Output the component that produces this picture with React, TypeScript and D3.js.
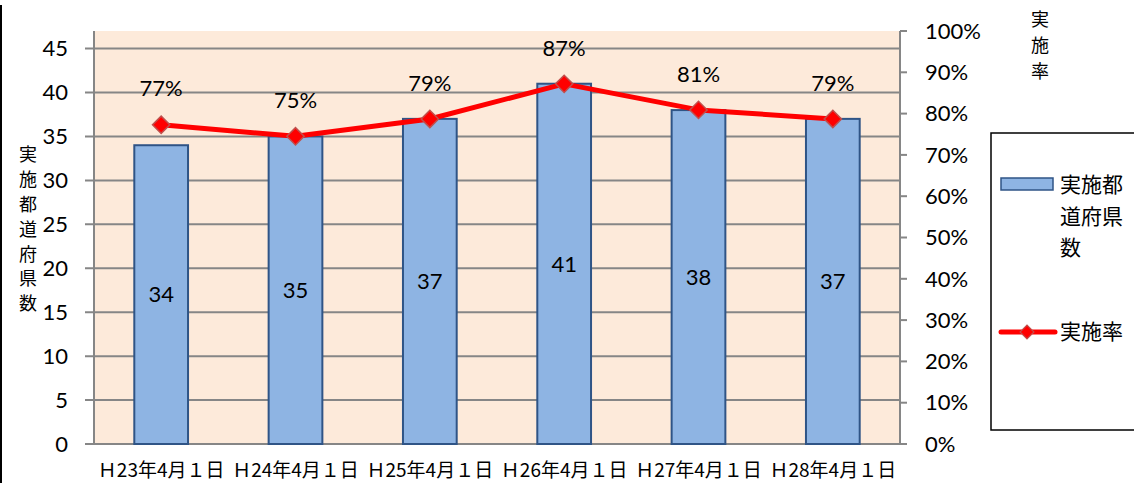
import React from 'react';
import * as d3 from 'd3';

const categories = ['Ｈ23年4月１日', 'Ｈ24年4月１日', 'Ｈ25年4月１日', 'Ｈ26年4月１日', 'Ｈ27年4月１日', 'Ｈ28年4月１日'];
const counts = [34, 35, 37, 41, 38, 37];
const rates = [0.773, 0.745, 0.787, 0.872, 0.809, 0.787];
const rateLabels = ['77%', '75%', '79%', '87%', '81%', '79%'];
const leftTicks = [0, 5, 10, 15, 20, 25, 30, 35, 40, 45];
const rightTicks = [0, 0.1, 0.2, 0.3, 0.4, 0.5, 0.6, 0.7, 0.8, 0.9, 1];

const W = 1134;
const H = 483;
const plot = { left: 94, right: 900, top: 31, bottom: 444 };

const font = "Lato, 'Noto Sans', 'Noto Sans CJK JP', sans-serif";
const jpFont = "'Noto Sans CJK JP', sans-serif";
const grid = '#868686';

const x = d3.scaleBand().domain(categories).range([plot.left, plot.right]).paddingInner(0.6).paddingOuter(0.3);
const yL = d3.scaleLinear().domain([0, 47]).range([plot.bottom, plot.top]);
const yR = d3.scaleLinear().domain([0, 1]).range([plot.bottom, plot.top]);

const line = d3.line<number>()
  .x((_, i) => x(categories[i])! + x.bandwidth() / 2)
  .y(d => yR(d));

const diamond = d3.symbol(d3.symbolSquare, 150)();

export default function App() {
  const leftTitle = '実施都道府県数'.split('');
  const rightTitle = '実施率'.split('');
  return (
    <svg width={W} height={H} style={{ position: 'absolute', left: 0, top: 0, background: '#fff' }}>
      <line x1={1} x2={1} y1={5} y2={H} stroke="#000" strokeWidth={2} />
      <rect x={plot.left} y={plot.top} width={plot.right - plot.left} height={plot.bottom - plot.top} fill="#FDEADA" />

      {/* gridlines + left ticks */}
      {leftTicks.map(t => (
        <g key={'l' + t}>
          <line x1={85} x2={plot.right} y1={yL(t)} y2={yL(t)} stroke={grid} strokeWidth={2} />
          <text x={68} y={yL(t)} dy="0.35em" textAnchor="end" fontSize={22} fontFamily={font}>{t}</text>
        </g>
      ))}
      <line x1={plot.left} x2={plot.left} y1={plot.top} y2={plot.bottom} stroke={grid} strokeWidth={2} />

      {/* right axis */}
      <line x1={plot.right} x2={plot.right} y1={plot.top} y2={plot.bottom} stroke={grid} strokeWidth={2} />
      {rightTicks.map(t => (
        <g key={'r' + t}>
          <line x1={plot.right} x2={907} y1={yR(t)} y2={yR(t)} stroke={grid} strokeWidth={2} />
          <text x={925} y={yR(t)} dy="0.35em" fontSize={22} fontFamily={font}>{d3.format('.0%')(t)}</text>
        </g>
      ))}

      {/* bars */}
      {counts.map((v, i) => (
        <g key={'b' + i}>
          <rect x={x(categories[i])} y={yL(v)} width={x.bandwidth()} height={yL(0) - yL(v)}
            fill="#8EB4E3" stroke="#2F5486" strokeWidth={2} />
          <text x={x(categories[i])! + x.bandwidth() / 2} y={(yL(v) + yL(0)) / 2} dy="0.35em"
            textAnchor="middle" fontSize={22} fontFamily={font}>{v}</text>
        </g>
      ))}

      {/* rate line */}
      <path d={line(rates)!} fill="none" stroke="#FF0000" strokeWidth={5} strokeLinejoin="round" />
      {rates.map((v, i) => {
        const cx = x(categories[i])! + x.bandwidth() / 2;
        return (
          <g key={'p' + i}>
            <path d={diamond!} transform={`translate(${cx},${yR(v)}) rotate(45)`} fill="#FF0000" stroke="#C0504D" strokeWidth={1.5} />
            <text x={cx} y={yR(v) - 36} dy="0.35em" textAnchor="middle" fontSize={22} fontFamily={font}>{rateLabels[i]}</text>
          </g>
        );
      })}

      {/* x labels */}
      {categories.map(c => (
        <text key={c} x={x(c)! + x.bandwidth() / 2} y={470} dy="0.35em" textAnchor="middle" fontSize={19} fontFamily={jpFont}>{c}</text>
      ))}

      {/* axis titles */}
      {leftTitle.map((ch, i) => (
        <text key={'lt' + i} x={28} y={155 + i * 24.8} dy="0.35em" textAnchor="middle" fontSize={18} fontFamily={jpFont}>{ch}</text>
      ))}
      {rightTitle.map((ch, i) => (
        <text key={'rt' + i} x={1040} y={20 + i * 26} dy="0.35em" textAnchor="middle" fontSize={18} fontFamily={jpFont}>{ch}</text>
      ))}

      {/* legend */}
      <rect x={991} y={133} width={160} height={297} fill="#fff" stroke="#000" strokeWidth={1.5} />
      <rect x={1001} y={178} width={52} height={12} fill="#8EB4E3" stroke="#2F5486" strokeWidth={1.5} />
      {['実施都', '道府県', '数'].map((s, i) => (
        <text key={'lg' + i} x={1060} y={185 + i * 31.5} dy="0.35em" fontSize={21} fontFamily={jpFont}>{s}</text>
      ))}
      <line x1={1001} x2={1055} y1={332} y2={332} stroke="#FF0000" strokeWidth={5} strokeLinecap="round" />
      <path d={diamond!} transform="translate(1027,332) rotate(45) scale(0.8)" fill="#FF0000" stroke="#C0504D" strokeWidth={1.5} />
      <text x={1060} y={332} dy="0.35em" fontSize={21} fontFamily={jpFont}>実施率</text>
    </svg>
  );
}
